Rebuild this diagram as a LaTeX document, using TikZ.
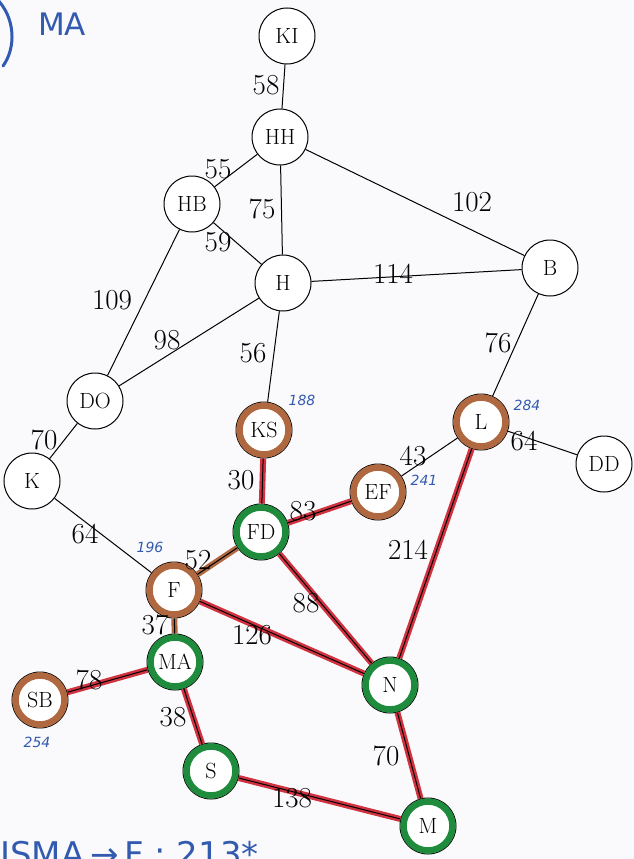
\documentclass[tikz,border=0pt]{standalone}
\usepackage{fontspec}
\newfontfamily\hand{DejaVu Sans}
\definecolor{ringbrown}{RGB}{176,104,64}
\definecolor{ringgreen}{RGB}{30,140,60}
\definecolor{edgered}{RGB}{208,50,64}
\definecolor{inkblue}{RGB}{50,90,175}
\definecolor{paper}{RGB}{250,250,252}
\tikzset{
  city/.style={circle,draw=black,line width=1pt,fill=white,minimum size=56pt,inner sep=0pt,font=\fontsize{22}{22}\selectfont},
  wt/.style={font=\fontsize{29}{29}\selectfont,inner sep=0pt},
  road/.style={draw=black,line width=1pt},
  redroad/.style={draw=edgered,line width=6pt},
  brownroad/.style={draw=ringbrown,line width=6pt},
  bluenum/.style={text=inkblue,font=\hand\itshape\fontsize{14}{14}\selectfont,inner sep=0pt},
  brownring/.style={draw=ringbrown,line width=6.5pt},
  greenring/.style={draw=ringgreen,line width=6.5pt},
}
\begin{document}
\begin{tikzpicture}[x=1pt,y=-1pt]
\useasboundingbox[fill=paper] (0,0) rectangle (634,859);
% nodes
\node[city] (KI) at (287,36) {KI};
\node[city] (HH) at (280,137) {HH};
\node[city] (HB) at (192,204) {HB};
\node[city] (H) at (283,283) {H};
\node[city] (B) at (550,268) {B};
\node[city] (DO) at (95,401) {DO};
\node[city] (K) at (32,481) {K};
\node[city] (KS) at (264,430) {KS};
\node[city] (L) at (481,422) {L};
\node[city] (DD) at (604,464) {DD};
\node[city] (EF) at (378,492) {EF};
\node[city] (FD) at (261,532) {FD};
\node[city] (F) at (174,590) {F};
\node[city] (MA) at (175,662) {MA};
\node[city] (SB) at (40,700) {SB};
\node[city] (N) at (390,685) {N};
\node[city] (S) at (211,771) {S};
\node[city] (M) at (428,826) {M};
% rings
\foreach \n in {KS,L,EF,F,SB}{\draw[brownring] (\n.center) circle (24.5);}
\foreach \n in {FD,MA,N,S,M}{\draw[greenring] (\n.center) circle (24.5);}
% coloured bands
\draw[redroad] (KS) -- (FD);
\draw[redroad] (FD) -- (EF);
\draw[redroad] (FD) -- (N);
\draw[redroad] (F) -- (N);
\draw[redroad] (L) -- (N);
\draw[redroad] (MA) -- (SB);
\draw[redroad] (MA) -- (S);
\draw[redroad] (N) -- (M);
\draw[redroad] (S) -- (M);
\draw[brownroad] (F) -- (FD);
\draw[brownroad] (F) -- (MA);
% roads
\draw[road] (KI) -- (HH);
\draw[road] (HH) -- (HB);
\draw[road] (HH) -- (H);
\draw[road] (HH) -- (B);
\draw[road] (HB) -- (H);
\draw[road] (HB) -- (DO);
\draw[road] (H) -- (B);
\draw[road] (H) -- (DO);
\draw[road] (H) -- (KS);
\draw[road] (B) -- (L);
\draw[road] (DO) -- (K);
\draw[road] (L) -- (DD);
\draw[road] (L) -- (EF);
\draw[road] (L) -- (N);
\draw[road] (K) -- (F);
\draw[road] (KS) -- (FD);
\draw[road] (FD) -- (EF);
\draw[road] (FD) -- (F);
\draw[road] (FD) -- (N);
\draw[road] (F) -- (MA);
\draw[road] (F) -- (N);
\draw[road] (MA) -- (SB);
\draw[road] (MA) -- (S);
\draw[road] (N) -- (M);
\draw[road] (S) -- (M);
% weights
\node[wt] (w1) at (266,85) {58};
\node[wt] (w2) at (218,169) {55};
\node[wt] (w3) at (262,209) {75};
\node[wt] (w4) at (472,202) {102};
\node[wt] (w5) at (218,242) {59};
\node[wt] (w6) at (393,274) {114};
\node[wt] (w7) at (112,300) {109};
\node[wt] (w8) at (167,340) {98};
\node[wt] (w9) at (253,353) {56};
\node[wt] (w10) at (498,343) {76};
\node[wt] (w11) at (44,440) {70};
\node[wt] (w12) at (413,456) {43};
\node[wt] (w13) at (524,441) {64};
\node[wt] (w14) at (241,480) {30};
\node[wt] (w15) at (303,511) {83};
\node[wt] (w16) at (85,534) {64};
\node[wt] (w17) at (408,550) {214};
\node[wt] (w18) at (198,560) {52};
\node[wt] (w19) at (306,603) {88};
\node[wt] (w20) at (155,625) {37};
\node[wt] (w21) at (252,635) {126};
\node[wt] (w22) at (89,680) {78};
\node[wt] (w23) at (173,717) {38};
\node[wt] (w24) at (386,756) {70};
\node[wt] (w25) at (292,798) {138};
% blue notes
\node[bluenum] (b1) at (302,400) {188};
\node[bluenum] (b2) at (527,405) {284};
\node[bluenum] (b3) at (424,480) {241};
\node[bluenum] (b4) at (150,547) {196};
\node[bluenum] (b5) at (37,742) {254};
\draw[inkblue,line width=3pt,line cap=round] (-4,-2) .. controls (16,18) and (16,48) .. (3,66);
\node[anchor=base west,text=inkblue,inner sep=0pt,font=\hand\fontsize{31}{31}\selectfont] (ma) at (38,36) {MA};
\node[anchor=base west,text=inkblue,inner sep=0pt,font=\hand\fontsize{34}{34}\selectfont] (res) at (0,866) {ISMA\,→\,F : 213*};
\end{tikzpicture}
\end{document}
